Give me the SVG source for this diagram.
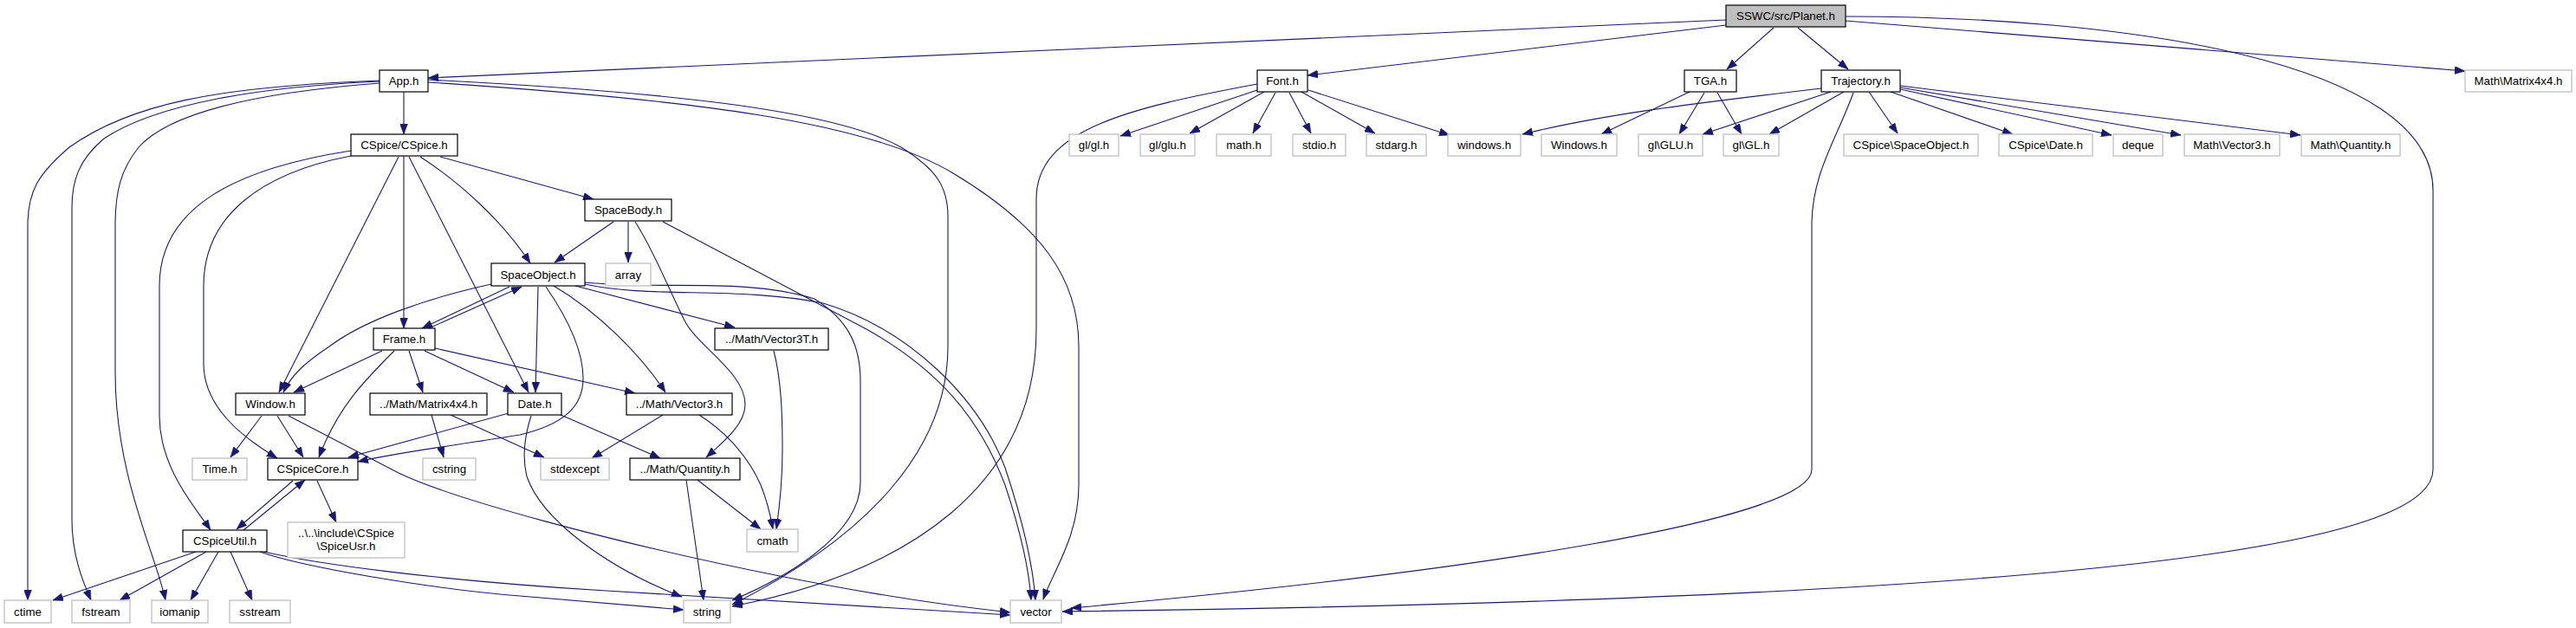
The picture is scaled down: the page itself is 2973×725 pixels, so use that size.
<svg xmlns="http://www.w3.org/2000/svg" width="2973" height="725" viewBox="0 0 2973 725">
<style>
.n rect{fill:#fff;stroke:#000;stroke-width:1.2}
.g rect{fill:#fff;stroke:#c4c4c4;stroke-width:1.4}
.root rect{fill:#bfbfbf;stroke:#000;stroke-width:1.2}
text{font-family:"Liberation Sans",Arial,Helvetica,sans-serif;font-size:13.3px;fill:#000;text-anchor:middle}
#edges path{fill:none;stroke:#191970;stroke-width:1.1;marker-end:url(#arr)}
</style>
<defs>
<marker id="arr" markerUnits="userSpaceOnUse" markerWidth="12" markerHeight="9" viewBox="0 0 12 9" refX="12" refY="4.5" orient="auto">
<path d="M0,0 L12,4.5 L0,9 z" fill="#191970" stroke="#191970" stroke-width="0.5"/>
</marker>
</defs>
<rect width="2973" height="725" fill="#fff"/>
<g id="edges">
<path d="M1992,23 L494,90"/>
<path d="M1992,29 L1509,87"/>
<path d="M2047,32 L1993,80"/>
<path d="M2075,32 L2133,80"/>
<path d="M2130,24 L2845,82"/>
<path d="M2130,19 C2450,19 2808,70 2808,220 L2808,542 C2808,620 2500,690 1226,706"/>
<path d="M2139,107 C2120,160 2091,200 2091,260 L2091,542 C2091,600 1700,660 1236,702"/>
<path d="M2102,102 C1950,120 1850,132 1757,155"/>
<path d="M2113,106 L1965,155"/>
<path d="M2128,106 L2042,155"/>
<path d="M2157,106 L2190,154"/>
<path d="M2182,106 L2323,155"/>
<path d="M2193,103 L2437,156"/>
<path d="M2193,101 L2517,156"/>
<path d="M2193,99 L2655,156"/>
<path d="M1950,106 L1848,155"/>
<path d="M1967,107 L1938,155"/>
<path d="M1982,107 L2010,155"/>
<path d="M1451,104 L1293,157"/>
<path d="M1459,106 L1373,154"/>
<path d="M1472,107 L1446,154"/>
<path d="M1488,107 L1513,154"/>
<path d="M1502,106 L1587,154"/>
<path d="M1510,104 L1673,156"/>
<path d="M1451,97 C1300,125 1196,150 1196,230 L1196,380 C1196,560 1050,660 845,700"/>
<path d="M494,92 C750,105 960,125 1040,170 C1080,195 1094,215 1094,250 L1094,400 C1094,520 1000,620 845,698"/>
<path d="M494,95 C800,115 1000,140 1100,200 C1200,260 1245,320 1245,400 L1245,560 C1245,620 1215,660 1204,692"/>
<path d="M438,93 C250,100 150,120 80,170 C45,200 32,220 32,260 L32,693"/>
<path d="M438,94 C300,100 180,120 120,160 C90,185 83,210 83,240 L83,600 C83,640 95,670 105,693"/>
<path d="M438,96 C320,105 200,125 160,170 C140,195 133,220 133,260 L133,430 C133,550 180,640 191,693"/>
<path d="M466,106 L466,155"/>
<path d="M466,180 L466,379"/>
<path d="M508,181 L685,230"/>
<path d="M485,181 C530,210 580,255 612,304"/>
<path d="M460,181 L322,453"/>
<path d="M472,181 L610,453"/>
<path d="M405,180 C300,200 235,250 235,330 L235,420 C235,470 280,505 320,529"/>
<path d="M405,174 C270,195 184,240 184,330 L184,480 C184,540 225,585 243,612"/>
<path d="M708,256 L640,303"/>
<path d="M725,256 L725,303"/>
<path d="M733,256 C755,290 770,330 790,370 C805,400 860,430 860,467 C860,490 835,510 815,528"/>
<path d="M765,256 L1000,380 C1080,425 1130,480 1160,560 C1180,620 1188,660 1190,693"/>
<path d="M675,328 C750,345 850,330 950,350 C1050,380 1130,460 1160,540 C1180,600 1192,650 1195,693"/>
<path d="M675,326 C760,335 860,320 940,345 C980,370 993,400 993,440 L993,557 C993,620 900,670 845,693"/>
<path d="M664,330 L848,378"/>
<path d="M639,330 C690,360 740,410 768,453"/>
<path d="M621,331 L618,453"/>
<path d="M630,331 C650,360 673,400 673,437 C673,470 650,490 600,502 C520,515 460,522 413,533"/>
<path d="M567,328 C490,345 420,370 380,400 C350,420 335,435 327,453"/>
<path d="M588,331 L487,379"/>
<path d="M495,379 L602,331"/>
<path d="M441,405 L339,453"/>
<path d="M455,405 C420,440 390,470 368,528"/>
<path d="M472,405 L488,453"/>
<path d="M490,405 L593,453"/>
<path d="M502,402 L733,454"/>
<path d="M302,480 L266,528"/>
<path d="M320,480 L350,528"/>
<path d="M333,480 L460,546 C520,575 700,625 900,665 C1000,685 1100,700 1166,707"/>
<path d="M587,477 L402,528"/>
<path d="M645,478 L762,529"/>
<path d="M613,480 C605,505 603,530 608,550 C625,600 700,655 787,689"/>
<path d="M498,479 L512,528"/>
<path d="M520,479 L628,528"/>
<path d="M765,479 L683,529"/>
<path d="M807,479 C840,500 865,530 878,560 C888,585 890,600 892,611"/>
<path d="M893,405 C902,440 903,480 903,520 C903,560 899,590 896,611"/>
<path d="M792,554 L812,693"/>
<path d="M805,554 L878,611"/>
<path d="M338,555 L273,611"/>
<path d="M281,612 L352,554"/>
<path d="M366,555 L388,603"/>
<path d="M226,637 L61,693"/>
<path d="M238,637 L138,693"/>
<path d="M252,637 L220,693"/>
<path d="M266,637 L291,693"/>
<path d="M300,637 C350,655 500,680 600,688 C700,697 760,702 789,704"/>
<path d="M305,637 C360,650 500,670 700,682 C900,695 1050,702 1166,710"/>
</g>
<g id="n_planet" class="root"><rect x="1992" y="6" width="138" height="25"/><text x="2061" y="23">SSWC/src/Planet.h</text></g>
<g id="n_app" class="n"><rect x="438" y="81" width="56" height="25"/><text x="466" y="98">App.h</text></g>
<g id="n_font" class="n"><rect x="1451" y="81" width="58" height="25"/><text x="1480" y="98">Font.h</text></g>
<g id="n_tga" class="n"><rect x="1944" y="81" width="60" height="25"/><text x="1974" y="98">TGA.h</text></g>
<g id="n_traj" class="n"><rect x="2102" y="81" width="91" height="25"/><text x="2147.5" y="98">Trajectory.h</text></g>
<g id="n_mmat" class="g"><rect x="2845" y="81" width="123" height="25"/><text x="2906.5" y="98">Math\Matrix4x4.h</text></g>
<g id="n_cspice" class="n"><rect x="405" y="155" width="123" height="25"/><text x="466.5" y="172">CSpice/CSpice.h</text></g>
<g id="n_glgl" class="g"><rect x="1234" y="155" width="57" height="25"/><text x="1262.5" y="172">gl/gl.h</text></g>
<g id="n_glglu" class="g"><rect x="1316" y="155" width="63" height="25"/><text x="1347.5" y="172">gl/glu.h</text></g>
<g id="n_math" class="g"><rect x="1404" y="155" width="63" height="25"/><text x="1435.5" y="172">math.h</text></g>
<g id="n_stdio" class="g"><rect x="1492" y="155" width="61" height="25"/><text x="1522.5" y="172">stdio.h</text></g>
<g id="n_stdarg" class="g"><rect x="1577" y="155" width="69" height="25"/><text x="1611.5" y="172">stdarg.h</text></g>
<g id="n_windows_l" class="g"><rect x="1671" y="155" width="84" height="25"/><text x="1713" y="172">windows.h</text></g>
<g id="n_windows_u" class="g"><rect x="1779" y="155" width="87" height="25"/><text x="1822.5" y="172">Windows.h</text></g>
<g id="n_glGLU" class="g"><rect x="1891" y="155" width="74" height="25"/><text x="1928" y="172">gl\GLU.h</text></g>
<g id="n_glGL" class="g"><rect x="1989" y="155" width="64" height="25"/><text x="2021" y="172">gl\GL.h</text></g>
<g id="n_cso" class="g"><rect x="2128" y="155" width="155" height="25"/><text x="2205.5" y="172">CSpice\SpaceObject.h</text></g>
<g id="n_cdate" class="g"><rect x="2307" y="155" width="108" height="25"/><text x="2361" y="172">CSpice\Date.h</text></g>
<g id="n_deque" class="g"><rect x="2439" y="155" width="57" height="25"/><text x="2467.5" y="172">deque</text></g>
<g id="n_mv3" class="g"><rect x="2521" y="155" width="110" height="25"/><text x="2576" y="172">Math\Vector3.h</text></g>
<g id="n_mq" class="g"><rect x="2656" y="155" width="114" height="25"/><text x="2713" y="172">Math\Quantity.h</text></g>
<g id="n_spacebody" class="n"><rect x="675" y="230" width="100" height="25"/><text x="725" y="247">SpaceBody.h</text></g>
<g id="n_spaceobject" class="n"><rect x="567" y="304" width="108" height="26"/><text x="621" y="321.5">SpaceObject.h</text></g>
<g id="n_array" class="g"><rect x="699" y="304" width="52" height="26"/><text x="725" y="321.5">array</text></g>
<g id="n_frame" class="n"><rect x="431" y="379" width="71" height="25"/><text x="466.5" y="396">Frame.h</text></g>
<g id="n_v3t" class="n"><rect x="825" y="379" width="131" height="25"/><text x="890.5" y="396">../Math/Vector3T.h</text></g>
<g id="n_window" class="n"><rect x="272" y="454" width="80" height="25"/><text x="312" y="471">Window.h</text></g>
<g id="n_m44" class="n"><rect x="427" y="454" width="135" height="25"/><text x="494.5" y="471">../Math/Matrix4x4.h</text></g>
<g id="n_date" class="n"><rect x="586" y="454" width="62" height="25"/><text x="617" y="471">Date.h</text></g>
<g id="n_v3" class="n"><rect x="723" y="454" width="122" height="25"/><text x="784" y="471">../Math/Vector3.h</text></g>
<g id="n_time" class="g"><rect x="222" y="529" width="63" height="25"/><text x="253.5" y="546">Time.h</text></g>
<g id="n_core" class="n"><rect x="309" y="529" width="104" height="25"/><text x="361" y="546">CSpiceCore.h</text></g>
<g id="n_cstring" class="g"><rect x="488" y="529" width="61" height="25"/><text x="518.5" y="546">cstring</text></g>
<g id="n_stdexcept" class="g"><rect x="624" y="529" width="79" height="25"/><text x="663.5" y="546">stdexcept</text></g>
<g id="n_quantity" class="n"><rect x="727" y="529" width="127" height="25"/><text x="790.5" y="546">../Math/Quantity.h</text></g>
<g id="n_spiceusr" class="g"><rect x="332" y="603" width="135" height="41"/><text x="399.5" y="620">..\..\include\CSpice</text><text x="399.5" y="635">\SpiceUsr.h</text></g>
<g id="n_util" class="n"><rect x="211" y="612" width="97" height="25"/><text x="259.5" y="629">CSpiceUtil.h</text></g>
<g id="n_cmath" class="g"><rect x="862" y="611" width="59" height="26"/><text x="891.5" y="628.5">cmath</text></g>
<g id="n_ctime" class="g"><rect x="5" y="693" width="54" height="26"/><text x="32" y="710.5">ctime</text></g>
<g id="n_fstream" class="g"><rect x="83" y="693" width="67" height="26"/><text x="116.5" y="710.5">fstream</text></g>
<g id="n_iomanip" class="g"><rect x="175" y="693" width="65" height="26"/><text x="207.5" y="710.5">iomanip</text></g>
<g id="n_sstream" class="g"><rect x="265" y="693" width="70" height="26"/><text x="300" y="710.5">sstream</text></g>
<g id="n_string" class="g"><rect x="789" y="693" width="54" height="26"/><text x="816" y="710.5">string</text></g>
<g id="n_vector" class="g"><rect x="1166" y="693" width="59" height="26"/><text x="1195.5" y="710.5">vector</text></g>
</svg>
